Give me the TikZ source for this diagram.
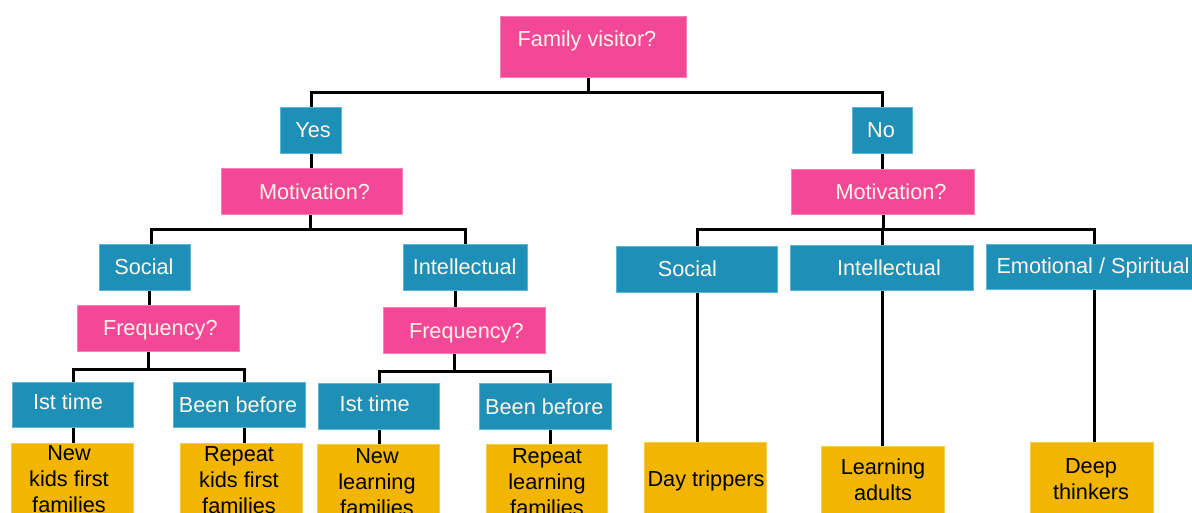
\documentclass[tikz,border=0pt]{standalone}
\usepackage{fontspec}
\setmainfont{Liberation Sans}
\definecolor{qpink}{HTML}{F54798}
\definecolor{qpinkline}{HTML}{F97DB8}
\definecolor{qblue}{HTML}{1E90B8}
\definecolor{qblueline}{HTML}{5DB5D8}
\definecolor{qgold}{HTML}{F2B500}
\definecolor{qgoldline}{HTML}{F7CB4E}
\definecolor{qcream}{HTML}{FFF5E6}
\begin{document}
\begin{tikzpicture}[x=1pt,y=-1pt,
  box/.style={rectangle, inner sep=0pt, anchor=north west, line width=1pt},
  pinkbox/.style={box, fill=qpink, draw=qpinkline},
  bluebox/.style={box, fill=qblue, draw=qblueline},
  goldbox/.style={box, fill=qgold, draw=qgoldline},
  txt/.style={inner sep=0pt, font=\fontsize{21.7pt}{26pt}\selectfont, text height=15.6pt, text depth=0pt},
  wtxt/.style={txt, text=qcream},
  btxt/.style={txt, text=black},
  leaftxt/.style={inner sep=0pt, align=center, text=black, font=\fontsize{21.7pt}{26pt}\selectfont},
  conn/.style={draw=black, line width=3pt}
]
\useasboundingbox (0,0) rectangle (1192,512);
\clip (0,0) rectangle (1192,512);

% bus levels
\coordinate (b1) at (0,92);
\coordinate (b2) at (0,229);
\coordinate (b3) at (0,369);
\coordinate (b4) at (0,371);

% boxes
\node[pinkbox, minimum width=186pt, minimum height=61pt] (fv) at (500,16) {};
\node[bluebox, minimum width=61pt, minimum height=46pt] (yes) at (280,107) {};
\node[bluebox, minimum width=60pt, minimum height=46pt] (no) at (852,107) {};
\node[pinkbox, minimum width=181pt, minimum height=46pt] (motL) at (221,168) {};
\node[pinkbox, minimum width=183pt, minimum height=45pt] (motR) at (791,169) {};
\node[bluebox, minimum width=91pt, minimum height=46pt] (socL) at (99,244) {};
\node[bluebox, minimum width=124pt, minimum height=46pt] (intL) at (403,244) {};
\node[bluebox, minimum width=161pt, minimum height=46pt] (socR) at (616,246) {};
\node[bluebox, minimum width=183pt, minimum height=45pt] (intR) at (790,245) {};
\node[bluebox, minimum width=216pt, minimum height=45pt] (emo) at (986,244) {};
\node[pinkbox, minimum width=162pt, minimum height=46pt] (freqL) at (77,305) {};
\node[pinkbox, minimum width=162pt, minimum height=46pt] (freqR) at (383,307) {};
\node[bluebox, minimum width=121pt, minimum height=45pt] (istL) at (12,382) {};
\node[bluebox, minimum width=132pt, minimum height=45pt] (bbL) at (173,382) {};
\node[bluebox, minimum width=121pt, minimum height=46pt] (istR) at (318,383) {};
\node[bluebox, minimum width=132pt, minimum height=46pt] (bbR) at (479,383) {};
\node[goldbox, minimum width=122pt, minimum height=100pt] (newkids) at (11,443) {};
\node[goldbox, minimum width=122pt, minimum height=100pt] (repkids) at (180,443) {};
\node[goldbox, minimum width=122pt, minimum height=100pt] (newlearn) at (317,444) {};
\node[goldbox, minimum width=121pt, minimum height=100pt] (replearn) at (486,444) {};
\node[goldbox, minimum width=122pt, minimum height=100pt] (day) at (644,442) {};
\node[goldbox, minimum width=123pt, minimum height=100pt] (ladults) at (821,446) {};
\node[goldbox, minimum width=123pt, minimum height=100pt] (deep) at (1030,442) {};

% labels
\node[wtxt] (t-fv) at (587,39) {Family visitor?};
\node[wtxt] (t-yes) at (313,130) {Yes};
\node[wtxt] (t-no) at (881,130) {No};
\node[wtxt] (t-motL) at (314.5,192) {Motivation?};
\node[wtxt] (t-motR) at (891,191.3) {Motivation?};
\node[wtxt] (t-socL) at (144,267) {Social};
\node[wtxt] (t-intL) at (464.7,267) {Intellectual};
\node[wtxt] (t-socR) at (687.5,268.7) {Social};
\node[wtxt] (t-intR) at (889,267.8) {Intellectual};
\node[wtxt] (t-emo) at (1093,265.3) {Emotional / Spiritual};
\node[wtxt] (t-freqL) at (160.3,328) {Frequency?};
\node[wtxt] (t-freqR) at (466.3,330.3) {Frequency?};
\node[wtxt] (t-istL) at (68,401.8) {Ist time};
\node[wtxt] (t-bbL) at (238,404.8) {Been before};
\node[wtxt] (t-istR) at (374.7,403.3) {Ist time};
\node[wtxt] (t-bbR) at (544.3,406.8) {Been before};
\node[leaftxt] (t-newkids) at (69,479) {New\\kids first\\families};
\node[leaftxt] (t-repkids) at (239,480.5) {Repeat\\kids first\\families};
\node[leaftxt] (t-newlearn) at (377,482) {New\\learning\\families};
\node[leaftxt] (t-replearn) at (547,482) {Repeat\\learning\\families};
\node[btxt] (t-day) at (706,479) {Day trippers};
\node[leaftxt] (t-ladults) at (883,479.9) {Learning\\adults};
\node[leaftxt] (t-deep) at (1091,478.9) {Deep\\thinkers};

% helper points for stems that are off-centre
\coordinate (sFV) at ([xshift=-5pt]fv.south);
\coordinate (sMotL) at ([xshift=-1.5pt]motL.south);
\coordinate (sSocL) at ([xshift=6.5pt]socL.north);
\coordinate (sSocLb) at ([xshift=4.5pt]socL.south);
\coordinate (sFreqL) at ([xshift=-10pt]freqL.south);
\coordinate (sBBL) at ([xshift=5pt]bbL.north);
\coordinate (sIntL) at ([xshift=-10pt]intL.south);
\coordinate (sFreqR) at ([xshift=-10pt]freqR.south);
\coordinate (sBBR) at ([xshift=5pt]bbR.north);

% connectors
\draw[conn] (sFV) -- (sFV |- b1);
\draw[conn] (yes.north) |- (b1 -| no.north) -- (no.north);
\draw[conn] (yes.south) -- (yes.south |- motL.north);
\draw[conn] (no.south) -- (no.south |- motR.north);

\draw[conn] (sMotL) -- (sMotL |- b2);
\draw[conn] (sSocL) |- (b2 -| intL.north) -- (intL.north);
\draw[conn] (sSocLb) -- (sSocLb |- freqL.north);
\draw[conn] (sIntL) -- (sIntL |- freqR.north);

\draw[conn] (sFreqL) -- (sFreqL |- b3);
\draw[conn] (istL.north) |- (b3 -| sBBL) -- (sBBL);
\draw[conn] (sFreqR) -- (sFreqR |- b4);
\draw[conn] (istR.north) |- (b4 -| sBBR) -- (sBBR);

\draw[conn] (istL.south) -- (istL.south |- newkids.north);
\draw[conn] (bbL.south -| sBBL) -- (repkids.north -| sBBL);
\draw[conn] (istR.south) -- (istR.south |- newlearn.north);
\draw[conn] (bbR.south -| sBBR) -- (replearn.north -| sBBR);

\draw[conn] (motR.south) -- (motR.south |- b2);
\draw[conn] (socR.north) |- (b2 -| emo.north) -- (emo.north);
\draw[conn] (intR.north) -- (intR.north |- b2);
\draw[conn] (socR.south) -- (socR.south |- day.north);
\draw[conn] (intR.south) -- (intR.south |- ladults.north);
\draw[conn] (emo.south) -- (emo.south |- deep.north);
\end{tikzpicture}
\end{document}
